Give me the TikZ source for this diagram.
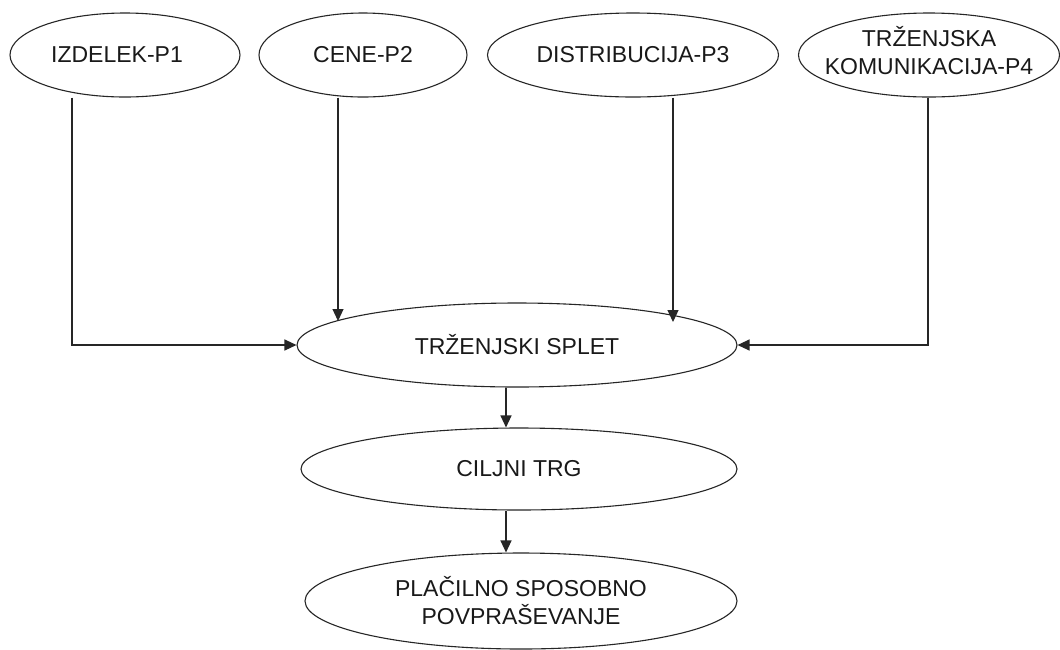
\documentclass[tikz,border=0pt]{standalone}
\usepackage{fontspec}
\setmainfont{Liberation Sans}
\usetikzlibrary{shapes.geometric,arrows.meta,calc}
\begin{document}
\begin{tikzpicture}[x=1pt,y=-1pt,
  ell/.style={ellipse,draw=black!85,line width=1.1pt,inner sep=0pt,
    font=\fontsize{23}{28}\selectfont,text=black!90,align=center},
  arr/.style={draw=black!85,line width=1.2pt,-{Triangle[length=12pt,width=11pt]}}]
\useasboundingbox (0,0) rectangle (1060,649);
\fill[white] (0,0) rectangle (1060,649);
% top row
\node[ell,minimum width=230pt,minimum height=84pt] (p1) at (125,55) {\makebox[0pt]{IZDELEK-P1\hspace{16pt}}};
\node[ell,minimum width=208pt,minimum height=84pt] (p2) at (363,55) {CENE-P2};
\node[ell,minimum width=291pt,minimum height=84pt] (p3) at (633,55) {DISTRIBUCIJA-P3};
\node[ell,minimum width=261pt,minimum height=84pt] (p4) at (929,55)
  {\makebox[0pt]{\begin{tabular}{@{}c@{}}TRŽENJSKA\\KOMUNIKACIJA-P4\end{tabular}}};
% centre column
\node[ell,minimum width=440pt,minimum height=84pt] (splet) at (517,345) {TRŽENJSKI SPLET};
\node[ell,minimum width=436pt,minimum height=82pt] (ciljni) at (519,469) {CILJNI TRG};
\node[ell,minimum width=432pt,minimum height=96pt] (plac) at (521,601) {PLAČILNO SPOSOBNO\\POVPRAŠEVANJE};
% helper coordinates
\coordinate (x1) at (72,0);
\coordinate (x4) at (928,0);
\coordinate (x5) at (506,0);
\coordinate (e2) at ($(splet.center)+(-179,-24)$);
\coordinate (e3) at ($(splet.center)+(156,-23)$);
% connectors
\draw[arr] (p1.south -| x1) |- (splet.west);
\draw[arr] (p2.south -| e2) -- (e2);
\draw[arr] (p3.south -| e3) -- (e3);
\draw[arr] (p4.south -| x4) |- (splet.east);
\draw[arr] (splet.south -| x5) -- (ciljni.north -| x5);
\draw[arr] (ciljni.south -| x5) -- (plac.north -| x5);
\end{tikzpicture}
\end{document}
